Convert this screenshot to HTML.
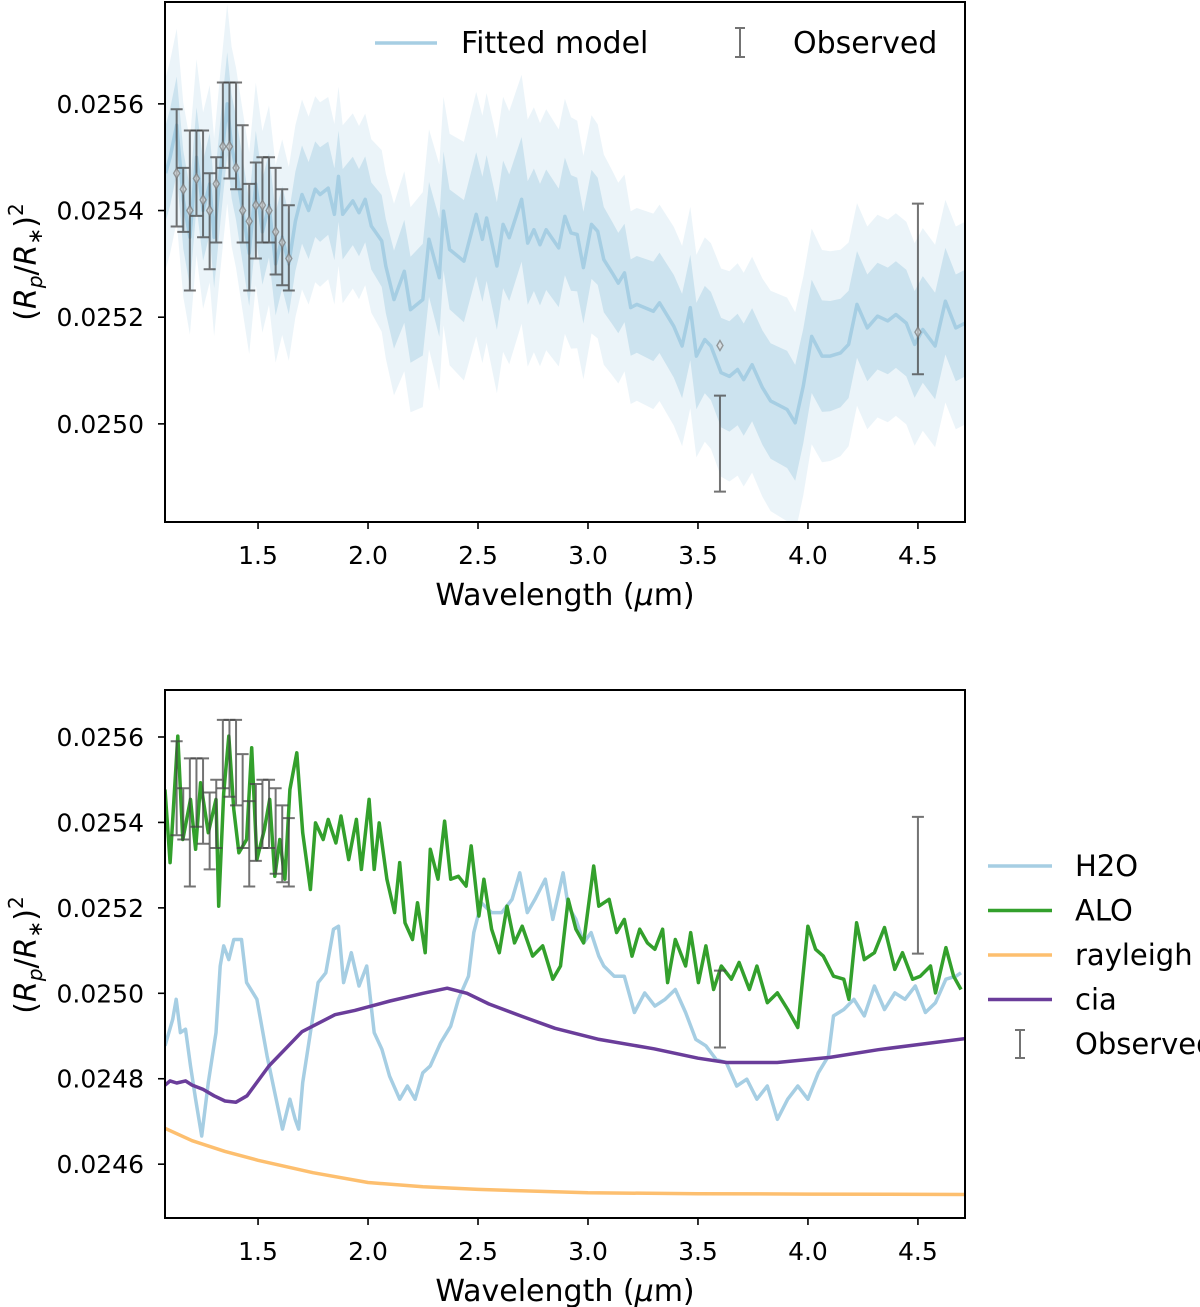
<!DOCTYPE html>
<html><head><meta charset="utf-8"><style>
body{margin:0;background:#fff;}
svg{display:block;font-family:"DejaVu Sans","Liberation Sans",sans-serif;}
</style></head><body>
<svg id="fig" width="1200" height="1307" viewBox="0 0 1200 1307" xmlns="http://www.w3.org/2000/svg">
<g id="top"></g>
<g id="bot"></g>
</svg>
<script>
// ---- Observed data (WFC3 + Spitzer)
const obsWl=[1.13,1.16,1.19,1.22,1.25,1.28,1.31,1.34,1.37,1.40,1.43,1.46,1.49,1.52,1.55,1.58,1.61,1.64,3.6,4.5];
const obsVal=[0.02548,0.02542,0.02540,0.02547,0.02545,0.02538,0.02542,0.02556,0.02555,0.02554,0.02545,0.02535,0.02540,0.02542,0.02542,0.02538,0.02535,0.02533,0.024963,0.025253];
const obsErr=[0.00011,0.00006,0.00015,0.00008,0.00010,0.00009,0.00008,0.00008,0.00009,0.00010,0.00011,0.00010,0.00009,0.00008,0.00008,0.00010,0.00009,0.00008,0.00009,0.00016];
const binVal=[0.02547,0.02544,0.02540,0.02546,0.02542,0.02540,0.02545,0.02552,0.02552,0.02548,0.02540,0.02538,0.02541,0.02541,0.02540,0.02536,0.02534,0.02531,0.025147,0.025172];
// ---- Fitted model
const modWl=[1.08,1.10,1.13,1.16,1.19,1.22,1.25,1.28,1.30,1.33,1.36,1.38,1.40,1.43,1.46,1.49,1.52,1.55,1.58,1.61,1.64,1.67,1.70,1.73,1.76,1.782,1.819,1.847,1.866,1.885,1.931,1.959,1.987,2.015,2.062,2.081,2.118,2.165,2.193,2.249,2.277,2.324,2.343,2.371,2.436,2.492,2.520,2.539,2.586,2.614,2.642,2.698,2.726,2.754,2.782,2.810,2.867,2.895,2.923,2.951,2.979,3.016,3.044,3.072,3.110,3.138,3.166,3.194,3.222,3.297,3.325,3.390,3.428,3.465,3.493,3.531,3.559,3.605,3.643,3.680,3.708,3.746,3.793,3.830,3.905,3.942,3.979,4.017,4.064,4.101,4.148,4.185,4.223,4.270,4.316,4.363,4.400,4.447,4.485,4.522,4.578,4.625,4.672,4.715];
const modVal=[0.02547,0.02550,0.02556,0.02542,0.02535,0.02550,0.02540,0.02545,0.02535,0.02548,0.02560,0.02552,0.02548,0.02540,0.02532,0.02545,0.02536,0.02541,0.02530,0.02535,0.02530,0.02538,0.02543,0.02540,0.02544,0.025430,0.025442,0.025393,0.025464,0.025393,0.025418,0.025396,0.025421,0.025371,0.025343,0.025296,0.025233,0.025286,0.025214,0.025233,0.025346,0.025274,0.025399,0.025327,0.025305,0.025393,0.025346,0.025386,0.025296,0.025374,0.025349,0.025421,0.025339,0.025364,0.025336,0.025364,0.025330,0.025389,0.025358,0.025355,0.025293,0.025374,0.025361,0.025308,0.025283,0.025264,0.025283,0.025218,0.025224,0.025211,0.025227,0.025183,0.025146,0.025218,0.025127,0.025158,0.025146,0.025096,0.025089,0.025102,0.025083,0.025111,0.025068,0.025043,0.025027,0.025002,0.025071,0.025164,0.025127,0.025127,0.025133,0.025149,0.025224,0.025180,0.025202,0.025193,0.025205,0.025189,0.025149,0.025177,0.025146,0.025230,0.025180,0.025189];
const bandWl=[1.08,1.5,2.0,2.3,2.6,2.9,3.2,3.5,3.9,4.2,4.72];
const band1=[0.00009,0.00010,0.00008,0.00011,0.00012,0.00011,0.00009,0.00010,0.00011,0.00010,0.00010];
const band2=[0.00018,0.00019,0.00016,0.00021,0.00024,0.00022,0.00018,0.00019,0.00021,0.00019,0.00019];
// ---- Bottom panel contributions
const aloWl=[1.077,1.100,1.135,1.158,1.193,1.216,1.239,1.274,1.309,1.321,1.344,1.367,1.390,1.413,1.448,1.471,1.495,1.529,1.553,1.576,1.599,1.622,1.645,1.676,1.703,1.738,1.761,1.796,1.819,1.854,1.877,1.912,1.947,1.970,2.005,2.028,2.051,2.086,2.121,2.144,2.168,2.202,2.225,2.260,2.283,2.318,2.348,2.376,2.411,2.446,2.469,2.504,2.527,2.562,2.597,2.632,2.666,2.701,2.748,2.794,2.840,2.875,2.910,2.945,2.980,3.026,3.049,3.096,3.130,3.165,3.200,3.235,3.270,3.304,3.339,3.362,3.397,3.444,3.467,3.502,3.536,3.571,3.606,3.652,3.687,3.734,3.768,3.815,3.861,3.908,3.954,4.000,4.035,4.070,4.116,4.163,4.186,4.221,4.256,4.302,4.348,4.395,4.430,4.476,4.511,4.557,4.580,4.627,4.662,4.696];
const aloVal=[0.025477,0.025306,0.025602,0.025360,0.025454,0.025337,0.025493,0.025376,0.025454,0.025204,0.025469,0.025602,0.025430,0.025329,0.025360,0.025575,0.025313,0.025384,0.025454,0.025274,0.025360,0.025267,0.025477,0.025563,0.025376,0.025243,0.025399,0.025360,0.025407,0.025352,0.025415,0.025313,0.025407,0.025290,0.025454,0.025290,0.025399,0.025267,0.025189,0.025306,0.025165,0.025126,0.025212,0.025095,0.025337,0.025267,0.025403,0.025267,0.025274,0.025251,0.025345,0.025181,0.025267,0.025150,0.025095,0.025204,0.025118,0.025157,0.025087,0.025111,0.025033,0.025064,0.025220,0.025150,0.025118,0.025298,0.025204,0.025220,0.025142,0.025173,0.025087,0.025150,0.025118,0.025103,0.025150,0.025025,0.025126,0.025064,0.025142,0.025025,0.025111,0.025009,0.025064,0.025033,0.025072,0.025009,0.025064,0.024978,0.025001,0.024962,0.024920,0.025157,0.025103,0.025087,0.025040,0.025033,0.024986,0.025165,0.025079,0.025095,0.025154,0.025056,0.025095,0.025033,0.025040,0.025064,0.025001,0.025107,0.025040,0.025009];
const h2oWl=[1.077,1.112,1.128,1.147,1.170,1.193,1.216,1.244,1.274,1.309,1.328,1.344,1.367,1.390,1.425,1.448,1.495,1.541,1.576,1.611,1.645,1.669,1.685,1.703,1.738,1.773,1.808,1.843,1.866,1.889,1.924,1.959,1.994,2.028,2.063,2.098,2.144,2.179,2.214,2.249,2.283,2.330,2.376,2.411,2.457,2.481,2.515,2.562,2.608,2.655,2.690,2.724,2.759,2.806,2.840,2.887,2.910,2.945,2.980,3.014,3.049,3.072,3.119,3.165,3.211,3.258,3.304,3.351,3.397,3.444,3.490,3.536,3.583,3.629,3.676,3.722,3.768,3.815,3.861,3.908,3.954,4.000,4.047,4.093,4.116,4.163,4.209,4.256,4.302,4.348,4.395,4.441,4.488,4.534,4.580,4.627,4.673,4.696];
const h2oVal=[0.024877,0.024939,0.024986,0.024908,0.024916,0.024830,0.024752,0.024666,0.024791,0.024908,0.025064,0.025111,0.025079,0.025126,0.025126,0.025025,0.024986,0.024853,0.024767,0.024682,0.024752,0.024705,0.024682,0.024791,0.024908,0.025025,0.025048,0.025150,0.025157,0.025025,0.025095,0.025017,0.025064,0.024908,0.024869,0.024806,0.024752,0.024783,0.024752,0.024814,0.024830,0.024884,0.024923,0.024986,0.025040,0.025142,0.025212,0.025189,0.025189,0.025220,0.025282,0.025189,0.025220,0.025267,0.025173,0.025282,0.025204,0.025173,0.025118,0.025142,0.025087,0.025064,0.025040,0.025040,0.024955,0.025001,0.024970,0.024986,0.025009,0.024955,0.024892,0.024877,0.024845,0.024838,0.024783,0.024799,0.024752,0.024783,0.024705,0.024752,0.024783,0.024752,0.024814,0.024853,0.024947,0.024962,0.024986,0.024947,0.025017,0.024962,0.025001,0.024986,0.025017,0.024955,0.024978,0.025033,0.025040,0.025048];
const ciaWl=[1.077,1.10,1.13,1.17,1.20,1.25,1.30,1.35,1.40,1.45,1.55,1.70,1.85,1.94,2.10,2.25,2.36,2.45,2.55,2.70,2.85,3.05,3.30,3.50,3.63,3.86,4.10,4.32,4.50,4.715];
const ciaVal=[0.024785,0.024795,0.024790,0.024795,0.024785,0.024775,0.024760,0.024748,0.024745,0.024760,0.024830,0.024910,0.024950,0.024960,0.024982,0.025000,0.025012,0.025000,0.024975,0.024946,0.024918,0.024892,0.024870,0.024848,0.024838,0.024838,0.024850,0.024868,0.024880,0.024894];
const rayWl=[1.077,1.2,1.35,1.5,1.75,2.0,2.25,2.5,3.0,3.5,4.0,4.715];
const rayVal=[0.024684,0.024655,0.024630,0.024609,0.024580,0.024557,0.024547,0.024541,0.024533,0.024531,0.024530,0.024529];
const xTicks=[1.5,2.0,2.5,3.0,3.5,4.0,4.5];
const xTickLabels=["1.5","2.0","2.5","3.0","3.5","4.0","4.5"];
const topYTicks=[0.0250,0.0252,0.0254,0.0256];
const botYTicks=[0.0246,0.0248,0.0250,0.0252,0.0254,0.0256];

const NS="http://www.w3.org/2000/svg";
function mk(parent,tag,attrs){const e=document.createElementNS(NS,tag);for(const k in attrs)e.setAttribute(k,attrs[k]);parent.appendChild(e);return e;}
function interp(xs,ys,x){if(x<=xs[0])return ys[0];for(let i=1;i<xs.length;i++){if(x<=xs[i]){const t=(x-xs[i-1])/(xs[i]-xs[i-1]);return ys[i-1]+t*(ys[i]-ys[i-1]);}}return ys[ys.length-1];}

const L=165,R=965,xMin=1.077,xMax=4.714;
const xs=v=>L+(v-xMin)/(xMax-xMin)*(R-L);
function yScale(T,B,vTop,vBot){return v=>T+(vTop-v)/(vTop-vBot)*(B-T);}
const P1={T:2,B:522,y:yScale(2,522,0.025791,0.024816),g:document.getElementById('top'),ticks:topYTicks};
const P2={T:690,B:1218,y:yScale(690,1218,0.02571,0.024474),g:document.getElementById('bot'),ticks:botYTicks};

function pathOf(wl,val,y){return wl.map((w,i)=>(i?'L':'M')+xs(w).toFixed(1)+','+y(val[i]).toFixed(1)).join('');}

function axes(P,labelY){
  const g=P.g;
  mk(g,'clipPath',{id:'clip'+P.T}).appendChild(document.createElementNS(NS,'rect'));
  const cr=g.querySelector('#clip'+P.T+' rect');cr.setAttribute('x',L);cr.setAttribute('y',P.T);cr.setAttribute('width',R-L);cr.setAttribute('height',P.B-P.T);
  xTicks.forEach((t,i)=>{
    const tk=mk(g,'line',{x1:xs(t),x2:xs(t),y1:P.B,y2:P.B+7,stroke:'#000','stroke-width':1.6});
    
    const tx=mk(g,'text',{x:xs(t),y:P.B+42,'text-anchor':'middle','font-size':25});
    
    tx.textContent=xTickLabels[i];
  });
  P.ticks.forEach(t=>{
    const tk=mk(g,'line',{x1:L-7,x2:L,y1:P.y(t),y2:P.y(t),stroke:'#000','stroke-width':1.6});
    
    const tx=mk(g,'text',{x:L-21,y:P.y(t)+9,'text-anchor':'end','font-size':25});
    
    tx.textContent=t.toFixed(4);
  });
  const xl=mk(g,'text',{x:565,y:P.B+83,'text-anchor':'middle','font-size':30});
  
  xl.innerHTML='Wavelength (<tspan font-style="italic">μ</tspan>m)';
  const yl=mk(g,'text',{transform:`translate(${36},${labelY}) rotate(-90)`,'text-anchor':'middle','font-size':30});
  
  yl.innerHTML='(<tspan font-style="italic">R</tspan><tspan font-style="italic" font-size="20" dy="6">p</tspan><tspan dy="-6">/</tspan><tspan font-style="italic">R</tspan><tspan font-size="20" dy="6">∗</tspan><tspan dy="-6">)</tspan><tspan font-size="20" dy="-13">2</tspan>';
}
function frame(P){const f=mk(P.g,'rect',{x:L,y:P.T,width:R-L,height:P.B-P.T,fill:'none',stroke:'#000','stroke-width':2});
  }
function errbars(P,g,withBin,idxs){
  idxs.forEach(i=>{
    const x=xs(obsWl[i]),y1=P.y(obsVal[i]+obsErr[i]),y2=P.y(obsVal[i]-obsErr[i]);
    const e=mk(g,'path',{d:`M${x},${y1}V${y2}M${x-6},${y1}h12M${x-6},${y2}h12`,stroke:'#444','stroke-opacity':0.75,'stroke-width':2,fill:'none'});
    
    if(withBin){const by=P.y(binVal[i]);
      const d=mk(g,'path',{d:`M${x},${by-5}L${x+3},${by}L${x},${by+5}L${x-3},${by}Z`,fill:'#ddd','fill-opacity':0.6,stroke:'#777','stroke-opacity':0.7,'stroke-width':1.4});
      }
  });
}
const allIdx=obsWl.map((_,i)=>i);

// ---- top panel
(function(){
  const P=P1,g=P.g;axes(P,262);
  const cg=mk(g,'g',{'clip-path':'url(#clip2)'});
  
  function band(key,arr,op){
    const up=modWl.map((w,i)=>xs(w).toFixed(1)+','+P.y(modVal[i]+interp(bandWl,arr,w)).toFixed(1));
    const dn=modWl.map((w,i)=>xs(w).toFixed(1)+','+P.y(modVal[i]-interp(bandWl,arr,w)).toFixed(1)).reverse();
    const p=mk(cg,'polygon',{points:up.concat(dn).join(' '),fill:'#a6cee3','fill-opacity':op});
    
  }
  band('model-2sigma-band',band2,0.22);
  band('model-1sigma-band',band1,0.45);
  const ml=mk(cg,'path',{d:pathOf(modWl,modVal,P.y),fill:'none',stroke:'#a6cee3','stroke-width':3.5,'stroke-linejoin':'round'});
  
  errbars(P,cg,true,allIdx);
  frame(P);
  const lg=mk(g,'g',{});
  const l1=mk(lg,'line',{x1:375,x2:437,y1:43,y2:43,stroke:'#a6cee3','stroke-width':3.5});
  
  const t1=mk(lg,'text',{x:461,y:53,'font-size':30});t1.textContent='Fitted model';
  
  const e1=mk(lg,'path',{d:'M740,28V57M735,28h10M735,57h10',stroke:'#444','stroke-opacity':0.75,'stroke-width':2});
  
  const t2=mk(lg,'text',{x:793,y:53,'font-size':30});t2.textContent='Observed';
  
})();

// ---- bottom panel
(function(){
  const P=P2,g=P.g;axes(P,955);
  const cg=mk(g,'g',{'clip-path':'url(#clip690)'});
  
  const series=[['h2o-line',h2oWl,h2oVal,'#a6cee3'],['rayleigh-line',rayWl,rayVal,'#fdbf6f'],['cia-line',ciaWl,ciaVal,'#6a3d9a'],['alo-line',aloWl,aloVal,'#33a02c']];
  series.forEach(s=>{const p=mk(cg,'path',{d:pathOf(s[1],s[2],P.y),fill:'none',stroke:s[3],'stroke-width':3.5,'stroke-linejoin':'round'});
    });
  errbars(P,cg,false,allIdx);
  frame(P);
  const lg=mk(g,'g',{});
  const items=[['H2O','#a6cee3'],['ALO','#33a02c'],['rayleigh','#fdbf6f'],['cia','#6a3d9a']];
  items.forEach((it,i)=>{const y=866+i*44.5;
    const ln=mk(lg,'line',{x1:988,x2:1052,y1:y,y2:y,stroke:it[1],'stroke-width':3.5});
    
    const t=mk(lg,'text',{x:1075,y:y+10,'font-size':29});t.textContent=it[0];
    });
  const e=mk(lg,'path',{d:'M1020,1030V1058M1015,1030h10M1015,1058h10',stroke:'#444','stroke-opacity':0.75,'stroke-width':2});
  
  const t=mk(lg,'text',{x:1075,y:1054,'font-size':29});t.textContent='Observed';
  
})();
</script>
</body></html>
